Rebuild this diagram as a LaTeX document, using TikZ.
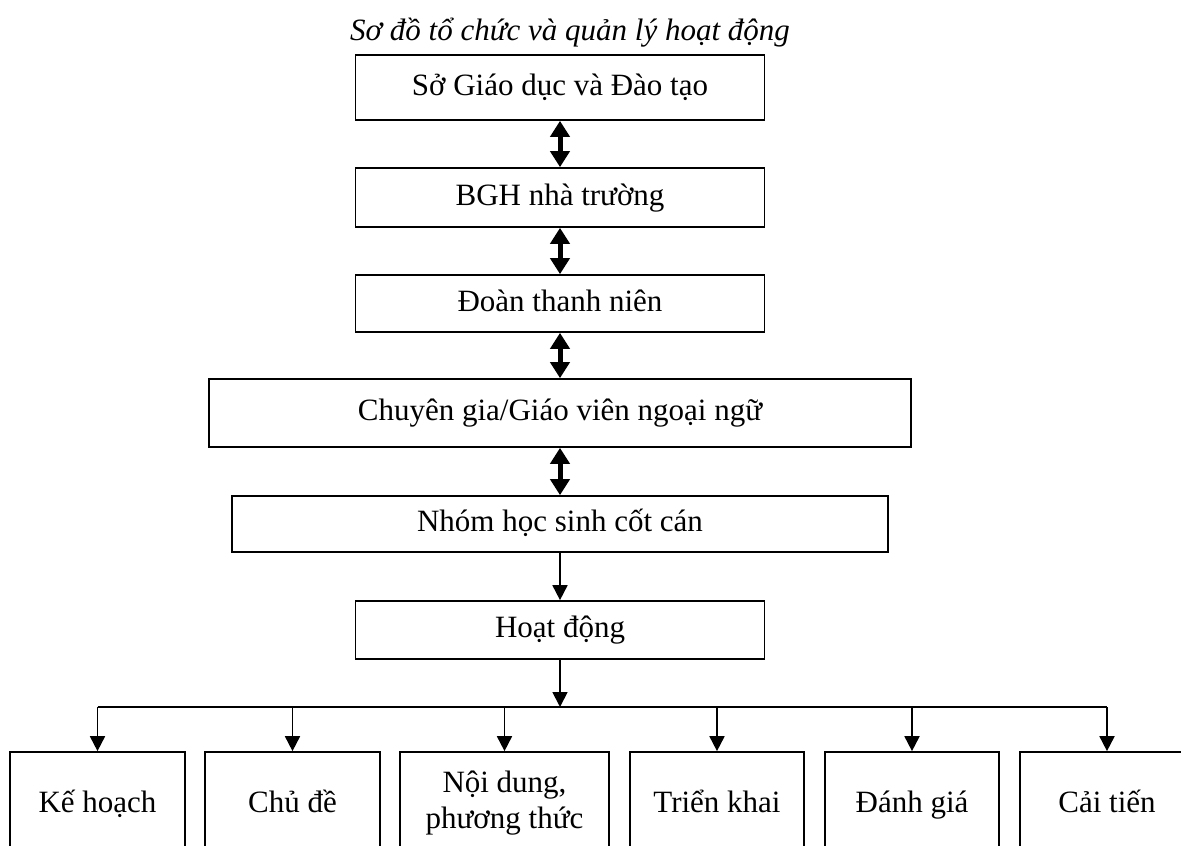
\documentclass[tikz,border=0pt]{standalone}
\usepackage{fontspec}
\setmainfont{Liberation Serif}
\usetikzlibrary{arrows.meta}
\begin{document}
\begin{tikzpicture}[x=1pt,y=-1pt,
  txt/.style={font=\fontsize{31}{36}\selectfont},
  box/.style={draw, line width=1.7pt, inner sep=0pt, align=center, txt},
  one/.style={text height=22pt, text depth=7pt},
  low/.style={text height=25pt, text depth=7pt},
  dbl/.style={line width=5pt, {Triangle[width=19pt,length=16pt]}-{Triangle[width=19pt,length=16pt]}},
  sgl/.style={line width=1.8pt, -{Triangle[width=15pt,length=15pt]}},
  bar/.style={line width=1.8pt},
]
\useasboundingbox (0,0) rectangle (1181,846);
\clip (0,0) rectangle (1181,846);
\node[txt, font=\fontsize{31}{36}\selectfont\itshape, anchor=base] (title) at (570,40) {Sơ đồ tổ chức và quản lý hoạt động};
\node[box, one, minimum width=409pt, minimum height=65pt] (b1) at (560,87.5) {Sở Giáo dục và Đào tạo};
\node[box, one, minimum width=409pt, minimum height=59pt] (b2) at (560,197.5) {BGH nhà trường};
\node[box, one, minimum width=409pt, minimum height=57pt] (b3) at (560,303.5) {Đoàn thanh niên};
\node[box, one, minimum width=702pt, minimum height=68pt] (b4) at (560,413) {Chuyên gia/Giáo viên ngoại ngữ};
\node[box, one, minimum width=656pt, minimum height=56pt] (b5) at (560,524) {Nhóm học sinh cốt cán};
\node[box, one, minimum width=409pt, minimum height=58pt] (b6) at (560,630) {Hoạt động};

\node[box, low, minimum width=175pt, minimum height=102pt] (k1) at (97.5,803) {Kế hoạch};
\node[box, low, minimum width=175pt, minimum height=102pt] (k2) at (292.5,803) {Chủ đề};
\node[box, minimum width=209pt, minimum height=102pt] (k3) at (504.5,803) {Nội dung,\\phương thức};
\node[box, low, minimum width=174pt, minimum height=102pt] (k4) at (717,803) {Triển khai};
\node[box, low, minimum width=174pt, minimum height=102pt] (k5) at (912,803) {Đánh giá};
\node[box, low, minimum width=174pt, minimum height=102pt] (k6) at (1107,803) {Cải tiến};

\draw[dbl] (b1.south) -- (b2.north);
\draw[dbl] (b2.south) -- (b3.north);
\draw[dbl] (b3.south) -- (b4.north);
\draw[dbl] (b4.south) -- (b5.north);
\draw[sgl] (b5.south) -- (b6.north);

\coordinate (hl) at (560,707);
\draw[sgl] (b6.south) -- (hl);
\draw[bar] (k1.north |- hl) -- (k6.north |- hl);
\foreach \k in {k1,k2,k3,k4,k5,k6}{
  \draw[sgl] (\k.north |- hl) -- (\k.north);
}
\end{tikzpicture}
\end{document}
